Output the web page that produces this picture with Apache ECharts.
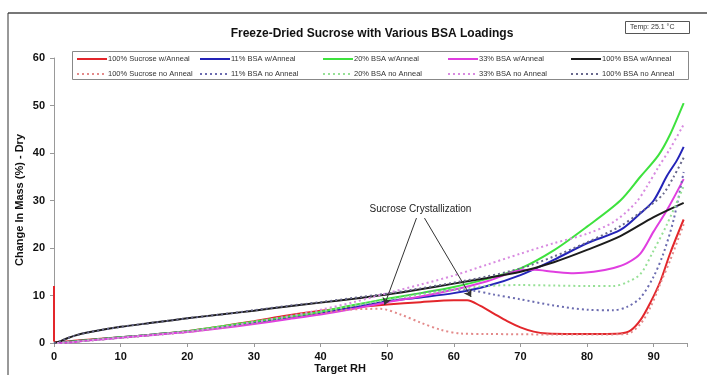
<!DOCTYPE html>
<html>
<head>
<meta charset="utf-8">
<script src="https://cdn.jsdelivr.net/npm/echarts@6/dist/echarts.min.js"></script>
<style>
  html, body { margin: 0; padding: 0; background: #fff; }
  #chart { width: 707px; height: 375px; }
</style>
</head>
<body>
<div id="chart"></div>
<script>
// series names (legend order: column by column)
const seriesNames = [
	'100% Sucrose w/Anneal', '100% Sucrose no Anneal',
	'11% BSA w/Anneal', '11% BSA no Anneal',
	'20% BSA w/Anneal', '20% BSA no Anneal',
	'33% BSA w/Anneal', '33% BSA no Anneal',
	'100% BSA w/Anneal', '100% BSA no Anneal'
];

// [Target RH, change in mass %]
const sucroseAnneal = [[0,12],[0,0.5],[1,0.2],[3,0.5],[5,0.7],[10,1.2],[15,1.8],[20,2.5],[25,3.5],[30,4.6],[35,5.8],[40,6.8],[45,7.5],[50,8.1],[55,8.6],[60,9],[62,9],[64,7.8],[66,6.2],[68,4.6],[70,3.3],[72,2.4],[74,2],[78,1.9],[82,1.9],[85,2],[86.5,2.6],[88,4.8],[89.5,8.5],[91,13],[92.5,19],[94.5,26]];
const sucroseNoAnneal = [[0.5,0],[2,0.1],[5,0.5],[10,1.1],[15,1.7],[20,2.3],[25,3.2],[30,4.2],[35,5.3],[40,6.3],[44,7],[49,7.2],[52,6],[55,4.3],[58,2.8],[61,2],[65,1.9],[75,1.8],[82,1.8],[86,1.9],[88,4],[89.5,7.5],[91,12.5],[92.5,17.5],[94.5,25]];
const bsa11Anneal = [[0.5,0],[2,0.2],[5,0.6],[10,1.2],[15,1.8],[20,2.4],[25,3.3],[30,4.3],[35,5.3],[40,6.3],[45,7.5],[50,8.8],[55,9.6],[60,10.5],[65,12],[70,14.3],[75,17.5],[80,21],[85,23.8],[88,27.3],[90,30],[92,35.2],[93.5,38.5],[94.5,41.3]];
const bsa11NoAnneal = [[0.5,0],[2,0.1],[5,0.5],[10,1.1],[15,1.7],[20,2.4],[25,3.3],[30,4.3],[35,5.4],[40,6.5],[45,7.8],[50,9],[55,10.4],[60,11.2],[63,11],[66,10.2],[70,9.2],[75,7.9],[80,7],[84,6.9],[86,7.6],[88,9.5],[90,14],[91.5,19],[93,26],[94.5,36]];
const bsa20Anneal = [[0.5,0],[2,0.2],[5,0.6],[10,1.2],[15,1.8],[20,2.5],[25,3.5],[30,4.5],[35,5.5],[40,6.6],[45,8],[50,9.3],[55,10.5],[60,11.8],[65,13.5],[70,15.7],[75,19.5],[80,24.5],[85,30],[88,35],[90.7,39.5],[92.5,44],[94.5,50.5]];
const bsa20NoAnneal = [[0.5,0],[2,0.1],[5,0.5],[10,1.1],[15,1.7],[20,2.4],[25,3.4],[30,4.4],[35,5.5],[40,6.6],[45,7.9],[50,9.1],[55,10.2],[60,11.2],[65,12],[70,12.2],[75,12.1],[80,12],[84,12],[86,12.8],[88,14.5],[90,19.5],[92,25],[94.5,33]];
const bsa33Anneal = [[0.5,0],[2,0.1],[5,0.5],[10,1.1],[15,1.7],[20,2.3],[25,3.1],[30,4],[35,5],[40,6],[45,7.2],[50,8.6],[55,9.8],[60,11.2],[65,13],[70,15.3],[72,15.4],[75,15],[78,14.7],[81,15],[84,15.8],[86,16.8],[88,18.8],[90,23.5],[92,28],[94.5,34.5]];
const bsa33NoAnneal = [[0.5,0],[2,0.1],[5,0.5],[10,1.1],[15,1.7],[20,2.4],[25,3.3],[30,4.4],[35,5.6],[40,7],[45,8.6],[50,10.5],[55,12.3],[60,14.2],[65,16.5],[70,18.8],[75,21],[80,23],[84,25.5],[87.3,29.5],[89,33],[90.7,37],[92.5,41],[94.5,46]];
const bsa100Anneal = [[0,0],[1,0.4],[2,1],[3,1.5],[5,2.2],[10,3.4],[15,4.3],[20,5.2],[25,6],[30,6.8],[35,7.7],[40,8.5],[45,9.3],[50,10.2],[55,11.3],[60,12.5],[65,13.7],[70,15],[75,17],[80,19.6],[85,22.5],[90,26.5],[94.5,29.5]];
const bsa100NoAnneal = [[0,0],[1,0.4],[2,1],[3,1.5],[5,2.2],[10,3.4],[15,4.3],[20,5.2],[25,6],[30,6.9],[35,7.8],[40,8.6],[45,9.5],[50,10.4],[55,11.5],[60,12.7],[65,14],[70,15.7],[75,18.2],[80,21.2],[85,24.6],[88,27.5],[90,29.5],[91.5,31.5],[93,35],[94.5,39]];

// annotation: text anchor and arrow tips
const annoText = 'Sucrose Crystallization';
const annoArrows = [
	[[54.4, 26.3], [49.6, 8]],
	[[55.6, 26.3], [62.6, 9.7]]
];

const seriesData = [
	sucroseAnneal, sucroseNoAnneal, bsa11Anneal, bsa11NoAnneal,
	bsa20Anneal, bsa20NoAnneal, bsa33Anneal, bsa33NoAnneal,
	bsa100Anneal, bsa100NoAnneal
];
const colors = [
	'#e3262b', '#e38a8a', '#2424b8', '#6c6cb0',
	'#3ee23e', '#96e096', '#e03ee0', '#d88ae0',
	'#1c1c1c', '#68688c'
];

const FONT = 'Liberation Sans, Arial, sans-serif';
const colLeft = [76, 199, 322, 447, 570];

const series = seriesData.map((d, i) => {
	const dotted = i % 2 === 1;
	const s = {
		name: seriesNames[i],
		type: 'line',
		data: d,
		symbol: 'none',
		smooth: 0.3,
		z: dotted ? 3 : 2,
		lineStyle: { color: colors[i], width: 2, type: dotted ? [2, 3] : 'solid' },
		itemStyle: { color: colors[i] }
	};
	if (i === 0) {
		s.markLine = {
			silent: true,
			symbol: ['none', 'arrow'],
			symbolSize: 7,
			label: { show: false },
			lineStyle: { color: '#333', width: 1, type: 'solid' },
			data: annoArrows.map(a => [{ coord: a[0] }, { coord: a[1] }])
		};
		s.markPoint = {
			silent: true,
			symbol: 'circle',
			symbolSize: 0,
			label: {
				show: true, position: 'top', distance: 4, formatter: annoText,
				color: '#222', fontFamily: FONT, fontSize: 10
			},
			data: [{ coord: [55, 26.3] }]
		};
	}
	return s;
});

const legends = colLeft.map((x, c) => ({
	orient: 'vertical',
	left: x,
	top: 55,
	padding: 0,
	itemWidth: 30,
	itemHeight: 8,
	itemGap: 7,
	selectedMode: false,
	itemStyle: { opacity: 0 },
	textStyle: { fontFamily: FONT, fontSize: 7.5, color: '#333', padding: [0, 0, 0, -4] },
	data: [seriesNames[c * 2], seriesNames[c * 2 + 1]]
}));

const chart = echarts.init(document.getElementById('chart'));
chart.setOption({
	animation: false,
	backgroundColor: '#fff',
	title: {
		text: 'Freeze-Dried Sucrose with Various BSA Loadings',
		left: 367, top: 23, textAlign: 'center',
		textStyle: { fontFamily: FONT, fontSize: 12, fontWeight: 'bold', color: '#111' }
	},
	legend: legends,
	grid: { left: 54, right: 20, top: 58, bottom: 32 },
	xAxis: {
		type: 'value', min: 0, max: 95, interval: 10,
		axisLine: { lineStyle: { color: '#999' } },
		axisTick: { length: 4, lineStyle: { color: '#999' } },
		splitLine: { show: false },
		axisLabel: {
			margin: 8, fontFamily: FONT, fontSize: 11, fontWeight: 'bold', color: '#111',
			formatter: v => (v % 10 === 0 ? String(v) : '')
		}
	},
	yAxis: {
		type: 'value', min: 0, max: 60, interval: 10,
		axisLine: { show: true, lineStyle: { color: '#999' } },
		axisTick: { show: true, length: 4, lineStyle: { color: '#999' } },
		splitLine: { show: false },
		axisLabel: { margin: 9, fontFamily: FONT, fontSize: 11, fontWeight: 'bold', color: '#111' }
	},
	graphic: [
		{ type: 'line', shape: { x1: 8, y1: 13, x2: 707, y2: 13 }, style: { stroke: '#777', lineWidth: 2 } },
		{ type: 'line', shape: { x1: 8, y1: 13, x2: 8, y2: 375 }, style: { stroke: '#333', lineWidth: 1 } },
		{ type: 'rect', shape: { x: 72.5, y: 51.5, width: 616, height: 28 }, style: { fill: 'none', stroke: '#888', lineWidth: 1 }, z: 1 },
		{ type: 'rect', shape: { x: 625.5, y: 21.5, width: 64, height: 12 }, style: { fill: '#fff', stroke: '#555', lineWidth: 1 } },
		{ type: 'text', left: 630, top: 24, style: { text: 'Temp: 25.1 °C', font: '7px ' + FONT, fill: '#333' } },
		{ type: 'text', x: 20, y: 200, rotation: Math.PI / 2, style: { text: 'Change In Mass (%) - Dry', font: 'bold 11px ' + FONT, fill: '#111', align: 'center', verticalAlign: 'middle' } },
		{ type: 'text', x: 340, y: 369, style: { text: 'Target RH', font: 'bold 11px ' + FONT, fill: '#111', align: 'center', verticalAlign: 'middle' } }
	],
	series: series
});
</script>
</body>
</html>
